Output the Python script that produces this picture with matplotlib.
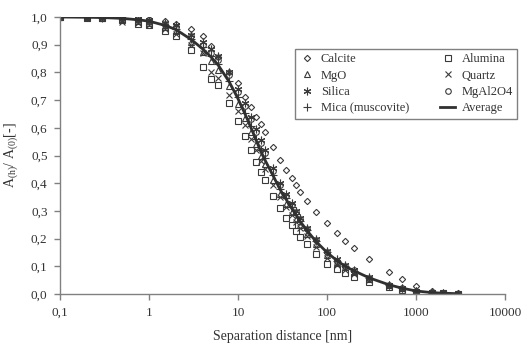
import matplotlib
matplotlib.use('Agg')
import matplotlib.pyplot as plt
from matplotlib.ticker import FixedLocator, FixedFormatter, NullLocator

plt.rcParams['font.family'] = 'Liberation Serif'
plt.rcParams['mathtext.default'] = 'regular'

# separation distances [nm]
distance = [0.1, 0.2, 0.3, 0.5, 0.75, 1, 1.5, 2, 3, 4, 5, 6, 8, 10, 12, 14, 16, 18, 20,
            25, 30, 35, 40, 45, 50, 60, 75, 100, 130, 160, 200, 300, 500, 700, 1000,
            1500, 2000, 3000]

calcite = [1.0, 1.0, 1.0, 0.998, 0.995, 0.992, 0.985, 0.975, 0.955, 0.93, 0.895, 0.856,
           0.80, 0.76, 0.712, 0.675, 0.64, 0.615, 0.585, 0.53, 0.483, 0.447, 0.418, 0.394,
           0.368, 0.336, 0.296, 0.256, 0.22, 0.191, 0.166, 0.126, 0.079, 0.054, 0.029,
           0.011, 0.004, 0.004]
alumina = [1.0, 0.998, 0.995, 0.99, 0.975, 0.97, 0.95, 0.93, 0.88, 0.82, 0.775, 0.755,
           0.69, 0.625, 0.57, 0.52, 0.475, 0.44, 0.41, 0.355, 0.31, 0.275, 0.25, 0.228,
           0.205, 0.18, 0.145, 0.11, 0.09, 0.075, 0.062, 0.045, 0.025, 0.016, 0.008,
           0.004, 0.002, 0.001]
mgo = [1.0, 0.999, 0.997, 0.993, 0.985, 0.98, 0.965, 0.95, 0.91, 0.875, 0.84, 0.81,
       0.75, 0.685, 0.635, 0.585, 0.54, 0.50, 0.47, 0.41, 0.36, 0.325, 0.295, 0.27,
       0.25, 0.215, 0.18, 0.14, 0.115, 0.097, 0.08, 0.055, 0.032, 0.02, 0.01, 0.005,
       0.002, 0.001]
quartz = [1.0, 0.998, 0.995, 0.982, 0.977, 0.97, 0.955, 0.94, 0.90, 0.87, 0.80, 0.78,
          0.72, 0.66, 0.61, 0.56, 0.52, 0.48, 0.45, 0.395, 0.35, 0.315, 0.285, 0.26,
          0.24, 0.21, 0.17, 0.13, 0.105, 0.088, 0.073, 0.05, 0.028, 0.018, 0.009, 0.004,
          0.002, 0.001]
silica = [1.0, 1.0, 0.999, 0.997, 0.993, 0.99, 0.98, 0.97, 0.935, 0.91, 0.885, 0.86,
          0.80, 0.74, 0.69, 0.64, 0.595, 0.555, 0.52, 0.455, 0.40, 0.36, 0.33, 0.30,
          0.275, 0.24, 0.20, 0.155, 0.125, 0.105, 0.088, 0.06, 0.034, 0.021, 0.011,
          0.005, 0.002, 0.001]
mgal2o4 = [1.0, 1.0, 0.999, 0.996, 0.99, 0.988, 0.975, 0.965, 0.93, 0.90, 0.87, 0.845,
           0.79, 0.73, 0.68, 0.63, 0.585, 0.545, 0.51, 0.445, 0.395, 0.355, 0.32, 0.295,
           0.27, 0.235, 0.195, 0.15, 0.12, 0.10, 0.085, 0.058, 0.033, 0.021, 0.011,
           0.005, 0.002, 0.001]
mica = [1.0, 0.999, 0.998, 0.995, 0.99, 0.985, 0.972, 0.958, 0.922, 0.89, 0.86, 0.83,
        0.77, 0.71, 0.655, 0.605, 0.56, 0.52, 0.49, 0.43, 0.38, 0.345, 0.315, 0.29,
        0.265, 0.23, 0.192, 0.15, 0.12, 0.10, 0.084, 0.058, 0.033, 0.021, 0.011, 0.005,
        0.002, 0.001]
average = [1.0, 0.999, 0.998, 0.995, 0.99, 0.985, 0.97, 0.955, 0.918, 0.885, 0.855, 0.826,
           0.765, 0.705, 0.65, 0.60, 0.555, 0.515, 0.485, 0.425, 0.375, 0.34, 0.31, 0.285,
           0.262, 0.228, 0.19, 0.15, 0.12, 0.10, 0.084, 0.058, 0.033, 0.021, 0.011, 0.005,
           0.003, 0.001]

x_ticks = [0.1, 1, 10, 100, 1000, 10000]
x_labels = ['0,1', '1', '10', '100', '1000', '10000']
y_ticks = [0.0, 0.1, 0.2, 0.3, 0.4, 0.5, 0.6, 0.7, 0.8, 0.9, 1.0]
y_labels = ['0,0', '0,1', '0,2', '0,3', '0,4', '0,5', '0,6', '0,7', '0,8', '0,9', '1,0']

mc = '#3a3a3a'
fig = plt.figure(figsize=(5.28, 3.51), dpi=100)
ax = fig.add_axes([60 / 528, 57 / 351, 445 / 528, 277 / 351])

series = [
    ('Calcite', calcite, 'D', 3.2),
    ('MgO', mgo, '^', 4.2),
    ('Silica', silica, (6, 2, 0), 5.5),
    ('Mica (muscovite)', mica, '+', 5.5),
    ('Alumina', alumina, 's', 4.2),
    ('Quartz', quartz, 'x', 4.5),
    ('MgAl2O4', mgal2o4, 'o', 4.0),
]
handles = []
for name, vals, mk, ms in series:
    h, = ax.plot(distance, vals, linestyle='none', marker=mk, ms=ms, mfc='none',
                 mec=mc, mew=0.8, label=name)
    handles.append(h)
h, = ax.plot(distance, average, color='#303030', lw=2.0, label='Average')
handles.append(h)

ax.set_xscale('log')
ax.set_xlim(0.1, 10000)
ax.set_ylim(0, 1.0)
ax.xaxis.set_major_locator(FixedLocator(x_ticks))
ax.xaxis.set_major_formatter(FixedFormatter(x_labels))
ax.xaxis.set_minor_locator(NullLocator())
ax.yaxis.set_major_locator(FixedLocator(y_ticks))
ax.yaxis.set_major_formatter(FixedFormatter(y_labels))

for s in ['top', 'right']:
    ax.spines[s].set_visible(False)
for s in ['left', 'bottom']:
    ax.spines[s].set_color('#808080')
    ax.spines[s].set_linewidth(1.0)
ax.tick_params(direction='out', length=4, width=1, color='#808080',
               labelsize=9.5, labelcolor='#333333', pad=5)
ax.patch.set_visible(False)

ax.set_xlabel('Separation distance [nm]', fontsize=10, color='#333333', labelpad=8)
ax.set_ylabel('A$_{(h)}$/ A$_{(0)}$[-]', fontsize=10, color='#333333', labelpad=8)

# legend box spans 295..517 px horizontally, top at 49 px
leg = ax.legend(handles=handles, ncol=2, loc='upper left', mode='expand',
                bbox_to_anchor=(295 / 528, 1 - 118 / 351, 222 / 528, 69 / 351),
                bbox_transform=fig.transFigure,
                fontsize=9, frameon=True, fancybox=False, framealpha=1,
                edgecolor='#808080', handlelength=1.2, handletextpad=0.5,
                columnspacing=0.6, labelspacing=0.35, borderpad=0.35, borderaxespad=0)
leg.get_frame().set_linewidth(1.0)
for t in leg.get_texts():
    t.set_color('#333333')

plt.savefig('out.png', dpi=100)
